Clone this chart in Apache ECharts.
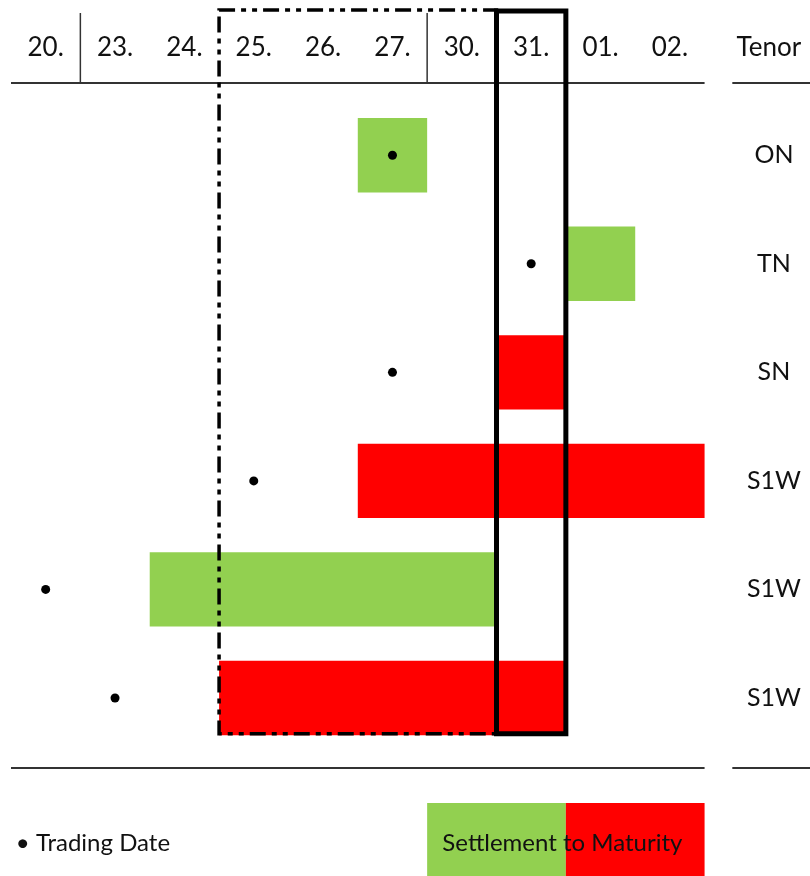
<!DOCTYPE html>
<html>
<head>
<meta charset="utf-8">
<script src="https://cdn.jsdelivr.net/npm/echarts@6/dist/echarts.min.js"></script>
<style>
html,body{margin:0;padding:0;background:#fff;}
#chart{width:810px;height:876px;}
</style>
</head>
<body>
<div id="chart"></div>
<script>
// ---- data ----
const dates = ['20.', '23.', '24.', '25.', '26.', '27.', '30.', '31.', '01.', '02.'];
const tenorHeader = 'Tenor';
const tenors = ['ON', 'TN', 'SN', 'S1W', 'S1W', 'S1W'];
const tradeCol = [5, 7, 5, 3, 0, 1];          // column index of trading date
const settleStart = [5, 8, 7, 5, 2, 3];       // first column of settlement period
const maturityEnd = [6, 9, 8, 10, 7, 8];      // column boundary of maturity
const barGroup = [0, 0, 1, 1, 0, 1];          // 0 = green group, 1 = red group
const legendLabels = ['Trading Date', 'Settlement to Maturity'];

// ---- styles ----
const palette = ['#92D050', '#FF0000'];
const FONT = 'Lato, "Liberation Sans", sans-serif';
const textColor = '#111';

const barData = tenors.map((t, i) => [settleStart[i], maturityEnd[i], i + 1, barGroup[i]]);
const dotData = tenors.map((t, i) => [tradeCol[i] + 0.5, i + 1]);
const headerData = dates.map((d, i) => [i + 0.5, 0, i]);
const tenorData = tenors.map((t, i) => [11, i + 1, i]);

const chart = echarts.init(document.getElementById('chart'), null, {renderer: 'canvas'});

function line(api, x1, y1, x2, y2, style) {
  const a = api.coord([x1, y1]), b = api.coord([x2, y2]);
  return {type: 'line', shape: {x1: a[0], y1: a[1], x2: b[0], y2: b[1]}, style: style};
}
function rectBetween(api, x1, y1, x2, y2, style) {
  const a = api.coord([x1, y1]), b = api.coord([x2, y2]);
  return {type: 'rect', shape: {x: a[0], y: a[1], width: b[0] - a[0], height: b[1] - a[1]}, style: style};
}

const option = {
  animation: false,
  backgroundColor: '#fff',
  grid: {left: 11, right: 0, top: 0, bottom: 0},
  xAxis: {type: 'value', min: 0, max: 11.52, show: false},
  yAxis: {type: 'value', min: -0.43, max: 7.64, inverse: true, show: false},
  series: [
    {
      // settlement-to-maturity bars
      type: 'custom', z: 2,
      data: barData,
      encode: {x: [0, 1], y: 2},
      renderItem: function (params, api) {
        const s = api.coord([api.value(0), api.value(2)]);
        const e = api.coord([api.value(1), api.value(2)]);
        const h = api.size([0, 0.685])[1];
        return {type: 'rect', shape: {x: s[0], y: s[1] - h / 2, width: e[0] - s[0], height: h},
          style: {fill: palette[api.value(3)]}};
      }
    },
    {
      // trading dates
      type: 'scatter', z: 3,
      data: dotData,
      symbol: 'circle', symbolSize: 9,
      itemStyle: {color: '#000', opacity: 1}
    },
    {
      // header date labels
      type: 'custom', z: 4,
      data: headerData,
      renderItem: function (params, api) {
        const p = api.coord([api.value(0), api.value(1)]);
        return {type: 'text', style: {text: dates[api.value(2)], x: p[0], y: p[1] + 1,
          align: 'center', verticalAlign: 'middle', font: '26px ' + FONT, fill: textColor}};
      }
    },
    {
      // tenor labels
      type: 'custom', z: 4,
      data: tenorData,
      renderItem: function (params, api) {
        const p = api.coord([api.value(0), api.value(1)]);
        return {type: 'text', style: {text: tenors[api.value(2)], x: p[0], y: p[1],
          align: 'center', verticalAlign: 'middle', font: '25px ' + FONT, fill: textColor}};
      }
    },
    {
      // frame, separators, legend
      type: 'custom', z: 5,
      data: [[0, 0]],
      clip: false,
      renderItem: function (params, api) {
        const rule = {stroke: '#333', lineWidth: 2};
        const sep = {stroke: '#333', lineWidth: 1.5};
        const children = [
          line(api, 0, 0.335, 10, 0.335, rule),
          line(api, 10.4, 0.335, 11.52, 0.335, rule),
          line(api, 0, 6.645, 10, 6.645, rule),
          line(api, 10.4, 6.645, 11.52, 6.645, rule),
          line(api, 1, -0.31, 1, 0.335, sep),
          line(api, 6, -0.31, 6, 0.335, sep),
          rectBetween(api, 3, -0.338, 7, 6.33,
            {fill: 'none', stroke: '#000', lineWidth: 3.5, lineDash: [16, 6, 5, 6, 5, 6]}),
          rectBetween(api, 7, -0.328, 8, 6.33,
            {fill: 'none', stroke: '#000', lineWidth: 5}),
          // header "Tenor"
          (function () { const p = api.coord([10.46, 0]); return {type: 'text',
            style: {text: tenorHeader, x: p[0], y: p[1] + 1, align: 'left', verticalAlign: 'middle',
              font: '26px ' + FONT, fill: textColor}}; })(),
          // legend boxes
          rectBetween(api, 6, 6.967, 8, 7.64, {fill: palette[0]}),
          rectBetween(api, 8, 6.967, 10, 7.64, {fill: palette[1]}),
          (function () { const p = api.coord([0.07, 7.335]); return {type: 'text',
            style: {text: '\u2022 ' + legendLabels[0], x: p[0], y: p[1], align: 'left', verticalAlign: 'middle',
              font: '24px ' + FONT, fill: textColor}}; })(),
          (function () { const p = api.coord([7.95, 7.335]); return {type: 'text',
            style: {text: legendLabels[1], x: p[0], y: p[1], align: 'center', verticalAlign: 'middle',
              font: '24px ' + FONT, fill: textColor}}; })()
        ];
        return {type: 'group', children: children};
      }
    }
  ]
};
chart.setOption(option);
</script>
</body>
</html>
